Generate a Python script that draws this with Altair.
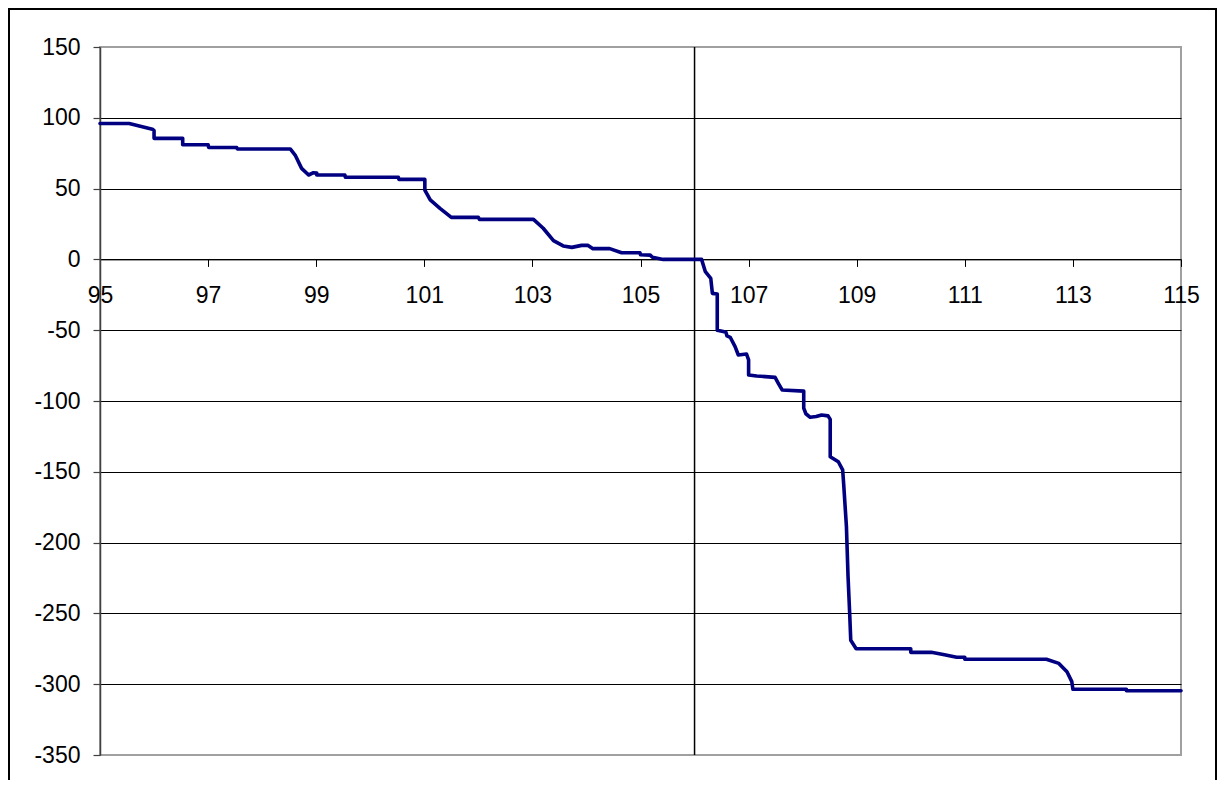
import altair as alt
import pandas as pd

# ---- data ----
x_vals = [95.0, 95.54, 95.97, 96.0, 96.0, 96.53, 96.53, 97.0, 97.01, 97.53, 97.54,
          98.52, 98.61, 98.73, 98.86, 98.95, 99.01, 99.01, 99.53, 99.54, 100.52, 100.53,
          101.01, 101.01, 101.11, 101.29, 101.5, 102.0, 102.02, 103.02, 103.2, 103.39,
          103.57, 103.73, 103.91, 104.03, 104.12, 104.43, 104.65, 104.99, 105.0, 105.18,
          105.22, 105.42, 106.13, 106.2, 106.3, 106.33, 106.42, 106.42, 106.53, 106.58,
          106.6, 106.66, 106.75, 106.81, 106.96, 107.0, 107.0, 107.15, 107.49, 107.55,
          107.62, 108.02, 108.02, 108.06, 108.14, 108.25, 108.35, 108.47, 108.51, 108.51,
          108.66, 108.74, 108.76, 108.81, 108.84, 108.87, 108.89, 108.99, 110.0, 110.0,
          110.38, 110.6, 110.85, 111.0, 111.0, 112.51, 112.74, 112.89, 112.98, 113.0,
          113.99, 113.99, 115.0]
y_vals = [96, 96, 92, 91, 85.5, 85.5, 81, 81, 79, 79, 78,
          78, 73.7, 64.3, 59.6, 61.2, 61, 59.6, 59.6, 58, 58, 56.5,
          56.5, 49, 42, 36, 29.7, 29.7, 28.3, 28.3, 22, 13.2,
          9.5, 8.5, 9.9, 9.9, 7.6, 7.6, 4.7, 4.7, 3.3, 3,
          1.5, 0, 0, -8.7, -13.4, -24, -24.5, -50, -51, -51.5,
          -54, -55, -61.6, -67.5, -66.8, -71, -81.6, -82.3, -83.3, -87.5,
          -92.2, -93, -105, -109, -111.5, -111, -109.9, -110.5, -113, -139.3,
          -142.9, -148.7, -159.3, -188.8, -224, -250, -269, -275, -275, -277.5,
          -277.5, -279, -281, -281, -282.4, -282.4, -285.3, -291.2, -298.2, -303.6,
          -303.6, -304.6, -304.6]
x_ticks = [95, 97, 99, 101, 103, 105, 107, 109, 111, 113, 115]
y_ticks = [150, 100, 50, 0, -50, -100, -150, -200, -250, -300, -350]
vline_x = [106]

df = pd.DataFrame({"x": x_vals, "y": y_vals, "i": list(range(len(x_vals)))})

W, H = 1081, 708
y_min, y_max = -350, 150
zero_px = H * y_max / (y_max - y_min)   # pixel distance from top to y = 0

FONT = "Liberation Sans"

xscale = alt.Scale(domain=[95, 115], nice=False, zero=False)
yscale = alt.Scale(domain=[y_min, y_max], nice=False, zero=False)

x_axis = alt.Axis(
    values=x_ticks, orient="bottom", offset=-(H - zero_px), grid=False,
    domain=True, domainColor="black", domainWidth=1,
    ticks=True, tickColor="black", tickSize=7, tickWidth=1,
    labelFont=FONT, labelFontSize=23, labelColor="black", labelPadding=18,
    labelFlush=False, labelOverlap=False, title=None,
    labelExpr="'' + datum.value",
)
y_axis = alt.Axis(
    values=y_ticks, orient="left", grid=True,
    gridColor={"condition": {"test": "datum.value == 150 || datum.value == -350",
                             "value": "transparent"}, "value": "black"},
    gridWidth=1, gridOpacity=1,
    domain=True, domainColor="#404040", domainWidth=1.5,
    ticks=True, tickColor="#404040", tickSize=7, tickWidth=1.2,
    labelFont=FONT, labelFontSize=23, labelColor="black", labelPadding=13,
    labelOverlap=False, title=None,
    labelExpr="'' + datum.value",
)

border = alt.Chart(alt.Data(values=[{"a": 1}])).mark_rect(
    fill="transparent", stroke="black", strokeWidth=2
).encode(
    x=alt.value(-91), x2=alt.value(1116), y=alt.value(-38), y2=alt.value(780)
)

vline = alt.Chart(pd.DataFrame({"x": vline_x})).mark_rule(
    color="black", strokeWidth=1.5
).encode(x=alt.X("x:Q", scale=xscale, axis=x_axis))

line = alt.Chart(df).mark_line(
    color="#000080", strokeWidth=3.6, strokeJoin="round", strokeCap="round"
).encode(
    x=alt.X("x:Q", scale=xscale, axis=x_axis),
    y=alt.Y("y:Q", scale=yscale, axis=y_axis),
    order=alt.Order("i:Q"),
)

chart = alt.layer(border, vline, line).properties(
    width=W, height=H,
    padding={"left": 92, "top": 39, "right": 36, "bottom": 25},
    autosize=alt.AutoSizeParams(type="none"),
    background="white",
).configure_view(stroke="#a0a0a0", strokeWidth=2)

chart.save("out.html", embed_options={"renderer": "svg", "actions": False})
